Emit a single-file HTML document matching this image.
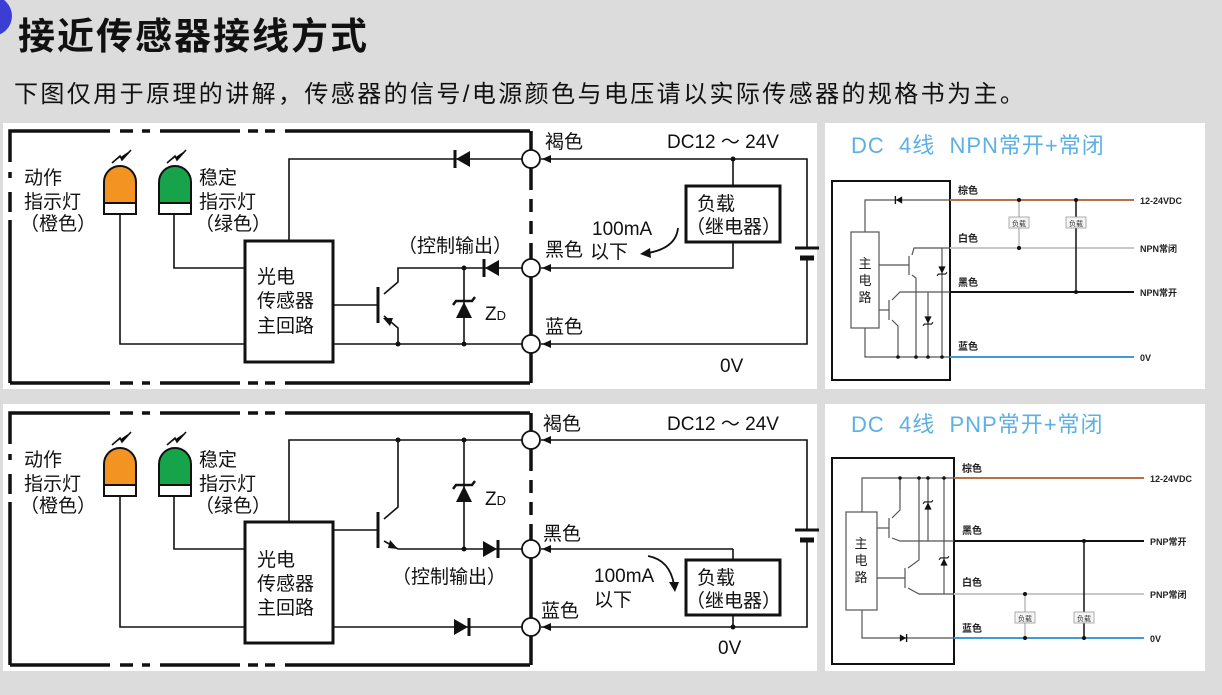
<!DOCTYPE html>
<html><head><meta charset="utf-8"><style>
html,body{margin:0;padding:0;background:#dcdcdc;}
svg{display:block;font-family:"Liberation Sans","Noto Sans CJK SC",sans-serif;}
</style></head><body>
<svg width="1222" height="695" viewBox="0 0 1222 695" xmlns="http://www.w3.org/2000/svg">
<defs>
<g id="dl"><polygon points="7,-8 7,8 -7,0" fill="#111"/><line x1="-8" y1="-9" x2="-8" y2="9" stroke="#111" stroke-width="3"/></g>
<g id="dr"><polygon points="-7,-8 -7,8 7,0" fill="#111"/><line x1="8" y1="-9" x2="8" y2="9" stroke="#111" stroke-width="3"/></g>
<g id="zu"><polygon points="-8,8 8,8 0,-8" fill="#111"/><polyline points="-11,-5 -8,-9 8,-9 11,-13" fill="none" stroke="#111" stroke-width="2.5"/></g>
<g id="ar"><polygon points="0,0 9,-4 9,4" fill="#111"/></g>
</defs>
<rect width="1222" height="695" fill="#dcdcdc"/>
<circle cx="-8" cy="16" r="20" fill="#3a3ed4"/>
<text x="18" y="49" font-size="37" font-weight="bold" fill="#111" letter-spacing="2">接近传感器接线方式</text>
<text x="14" y="102" font-size="24" fill="#111" letter-spacing="2.4">下图仅用于原理的讲解，传感器的信号/电源颜色与电压请以实际传感器的规格书为主。</text>

<rect x="3" y="123" width="814" height="266" fill="#fff"/>
<rect x="3" y="404" width="814" height="267" fill="#fff"/>
<rect x="825" y="123" width="380" height="266" fill="#fff"/>
<rect x="825" y="404" width="380" height="267" fill="#fff"/>

<!-- ===== TOP LEFT ===== -->
<g stroke="#111" fill="none">
<g stroke-width="3.5">
<polyline points="110,131 10,131 10,162"/><line x1="10" y1="172" x2="10" y2="178"/><line x1="10" y1="192" x2="10" y2="212"/><line x1="10" y1="220" x2="10" y2="383"/><line x1="10" y1="383" x2="110" y2="383"/>
<line x1="120" y1="131" x2="133" y2="131"/><line x1="142" y1="131" x2="150" y2="131"/><line x1="160" y1="131" x2="240" y2="131"/>
<line x1="248" y1="131" x2="258" y2="131"/><line x1="265" y1="131" x2="275" y2="131"/><line x1="285" y1="131" x2="530" y2="131"/>
<line x1="120" y1="383" x2="133" y2="383"/><line x1="142" y1="383" x2="150" y2="383"/><line x1="160" y1="383" x2="240" y2="383"/>
<line x1="248" y1="383" x2="258" y2="383"/><line x1="265" y1="383" x2="275" y2="383"/><line x1="285" y1="383" x2="530" y2="383"/>
<line x1="531" y1="131" x2="531" y2="150"/><line x1="531" y1="168" x2="531" y2="190"/><line x1="531" y1="199" x2="531" y2="212"/><line x1="531" y1="221" x2="531" y2="234"/><line x1="531" y1="243" x2="531" y2="259"/><line x1="531" y1="277" x2="531" y2="335"/><line x1="531" y1="353" x2="531" y2="383"/>
</g>
<g stroke-width="1.6">
<polyline points="522,159 289,159 289,241"/>
<polyline points="174,214 174,268 245,268"/>
<polyline points="120,214 120,344 245,344"/>
<line x1="333" y1="344" x2="522" y2="344"/>
<line x1="333" y1="305" x2="378" y2="305"/>
<polyline points="384,294 398,282 398,268 522,268"/>
<polyline points="384,316 398,328 398,344"/>
<line x1="464" y1="268" x2="464" y2="344"/>
<polyline points="541,159 807,159 807,248"/><polyline points="807,258 807,344 541,344"/>
<polyline points="733,159 733,186"/><polyline points="733,242 733,268 541,268"/>
</g>
<line x1="378" y1="287" x2="378" y2="323" stroke-width="3"/>
<rect x="245" y="241" width="88" height="121" stroke-width="3"/>
<rect x="686" y="186" width="94" height="56" stroke-width="3"/>
<line x1="795" y1="248" x2="819" y2="248" stroke-width="3"/><line x1="800" y1="258" x2="814" y2="258" stroke-width="5"/>
<g stroke-width="1.8" fill="#fff"><circle cx="531" cy="159" r="9"/><circle cx="531" cy="268" r="9"/><circle cx="531" cy="344" r="9"/></g>
<path d="M678,228 Q676,248 648,253" stroke-width="1.8"/>
</g>
<polygon points="383,318 390,326 393,318" fill="#111"/>
<use href="#dl" x="463" y="159"/><use href="#dl" x="492" y="268"/><use href="#zu" x="464" y="310"/>
<use href="#ar" x="542" y="159"/><use href="#ar" x="542" y="268"/><use href="#ar" x="542" y="344"/>
<polygon points="640,254 650,248 651,258" fill="#111"/>
<g fill="#111"><circle cx="398" cy="344" r="2.5"/><circle cx="464" cy="344" r="2.5"/><circle cx="464" cy="268" r="2.5"/><circle cx="733" cy="159" r="2.5"/></g>
<path d="M104,203 V182 A16,16 0 0 1 136,182 V203 Z" fill="#f39322" stroke="#111" stroke-width="2"/><rect x="104" y="203" width="32" height="11" fill="#fff" stroke="#111" stroke-width="2"/>
<path d="M159,203 V182 A16,16 0 0 1 191,182 V203 Z" fill="#17a34a" stroke="#111" stroke-width="2"/><rect x="159" y="203" width="32" height="11" fill="#fff" stroke="#111" stroke-width="2"/>
<g stroke="#111" stroke-width="1.6"><polyline points="112,163 120,156 122,160 131,150"/><polyline points="167,163 175,156 177,160 186,150"/></g>
<g fill="#111" font-size="19">
<text x="24" y="184">动作</text><text x="24" y="208">指示灯</text><text x="20" y="230">（橙色）</text>
<text x="199" y="184">稳定</text><text x="199" y="208">指示灯</text><text x="195" y="230">（绿色）</text>
<text x="257" y="283">光电</text><text x="257" y="307">传感器</text><text x="257" y="332">主回路</text>
<text x="398" y="252">（控制输出）</text>
<text x="485" y="320">Z<tspan font-size="13">D</tspan></text>
<text x="545" y="148">褐色</text><text x="667" y="148">DC12 ～ 24V</text>
<text x="697" y="210">负载</text><text x="686" y="233">（继电器）</text>
<text x="592" y="235">100mA</text><text x="545" y="256">黑色</text><text x="590" y="258">以下</text>
<text x="545" y="333">蓝色</text><text x="720" y="372">0V</text>
</g>

<!-- ===== BOTTOM LEFT ===== -->
<g stroke="#111" fill="none">
<g stroke-width="3.5">
<polyline points="110,413 10,413 10,444"/><line x1="10" y1="454" x2="10" y2="460"/><line x1="10" y1="474" x2="10" y2="494"/><line x1="10" y1="502" x2="10" y2="665"/><line x1="10" y1="665" x2="110" y2="665"/>
<line x1="120" y1="413" x2="133" y2="413"/><line x1="142" y1="413" x2="150" y2="413"/><line x1="160" y1="413" x2="240" y2="413"/>
<line x1="248" y1="413" x2="258" y2="413"/><line x1="265" y1="413" x2="275" y2="413"/><line x1="285" y1="413" x2="530" y2="413"/>
<line x1="120" y1="665" x2="133" y2="665"/><line x1="142" y1="665" x2="150" y2="665"/><line x1="160" y1="665" x2="240" y2="665"/>
<line x1="248" y1="665" x2="258" y2="665"/><line x1="265" y1="665" x2="275" y2="665"/><line x1="285" y1="665" x2="530" y2="665"/>
<line x1="531" y1="413" x2="531" y2="431"/><line x1="531" y1="449" x2="531" y2="471"/><line x1="531" y1="480" x2="531" y2="493"/><line x1="531" y1="502" x2="531" y2="515"/><line x1="531" y1="524" x2="531" y2="540"/><line x1="531" y1="558" x2="531" y2="618"/><line x1="531" y1="636" x2="531" y2="665"/>
</g>
<g stroke-width="1.6">
<polyline points="522,440 289,440 289,522"/>
<polyline points="174,496 174,549 245,549"/>
<polyline points="120,496 120,627 245,627"/>
<line x1="333" y1="627" x2="522" y2="627"/>
<line x1="333" y1="530" x2="378" y2="530"/>
<polyline points="384,519 398,507 398,440"/>
<polyline points="384,541 398,549 522,549"/>
<line x1="464" y1="440" x2="464" y2="549"/>
<polyline points="541,440 807,440 807,530"/><polyline points="807,540 807,627 541,627"/>
<polyline points="733,549 733,560"/><polyline points="733,615 733,627"/>
<polyline points="541,549 733,549"/>
</g>
<line x1="378" y1="512" x2="378" y2="548" stroke-width="3"/>
<rect x="245" y="522" width="88" height="121" stroke-width="3"/>
<rect x="686" y="560" width="94" height="55" stroke-width="3"/>
<line x1="795" y1="530" x2="819" y2="530" stroke-width="3"/><line x1="800" y1="540" x2="814" y2="540" stroke-width="5"/>
<g stroke-width="1.8" fill="#fff"><circle cx="531" cy="440" r="9"/><circle cx="531" cy="549" r="9"/><circle cx="531" cy="627" r="9"/></g>
<path d="M648,556 Q670,560 674,585" stroke-width="1.8"/>
</g>
<polygon points="390,540 398,549 388,548" fill="#111"/>
<use href="#dr" x="490" y="549"/><use href="#dr" x="461" y="627"/><use href="#zu" x="464" y="494"/>
<use href="#ar" x="542" y="440"/><use href="#ar" x="542" y="549"/><use href="#ar" x="542" y="627"/>
<polygon points="669,582 679,582 675,592" fill="#111"/>
<g fill="#111"><circle cx="398" cy="440" r="2.5"/><circle cx="464" cy="440" r="2.5"/><circle cx="464" cy="549" r="2.5"/><circle cx="733" cy="627" r="2.5"/></g>
<path d="M104,485 V464 A16,16 0 0 1 136,464 V485 Z" fill="#f39322" stroke="#111" stroke-width="2"/><rect x="104" y="485" width="32" height="11" fill="#fff" stroke="#111" stroke-width="2"/>
<path d="M159,485 V464 A16,16 0 0 1 191,464 V485 Z" fill="#17a34a" stroke="#111" stroke-width="2"/><rect x="159" y="485" width="32" height="11" fill="#fff" stroke="#111" stroke-width="2"/>
<g stroke="#111" stroke-width="1.6"><polyline points="112,445 120,438 122,442 131,432"/><polyline points="167,445 175,438 177,442 186,432"/></g>
<g fill="#111" font-size="19">
<text x="24" y="466">动作</text><text x="24" y="490">指示灯</text><text x="20" y="512">（橙色）</text>
<text x="199" y="466">稳定</text><text x="199" y="490">指示灯</text><text x="195" y="512">（绿色）</text>
<text x="257" y="566">光电</text><text x="257" y="590">传感器</text><text x="257" y="614">主回路</text>
<text x="392" y="583">（控制输出）</text>
<text x="485" y="505">Z<tspan font-size="13">D</tspan></text>
<text x="543" y="430">褐色</text><text x="667" y="430">DC12 ～ 24V</text>
<text x="543" y="540">黑色</text>
<text x="697" y="584">负载</text><text x="686" y="607">（继电器）</text>
<text x="594" y="582">100mA</text><text x="594" y="606">以下</text>
<text x="541" y="617">蓝色</text><text x="718" y="654">0V</text>
</g>

<!-- ===== TOP RIGHT NPN ===== -->
<text x="851" y="153" font-size="22" fill="#5db0e4" letter-spacing="1" style="white-space:pre" xml:space="preserve">DC  4线  NPN常开+常闭</text>
<g fill="none" stroke="#111">
<rect x="832" y="181" width="118" height="199" stroke-width="2"/>
<g stroke="#555" stroke-width="1.2">
<rect x="851" y="232" width="28" height="96"/>
<polyline points="950,200 865,200 865,232"/>
<polyline points="865,328 865,357 950,357"/>
<polyline points="879,265 909,265"/><polyline points="912,255 914,248 950,248"/><polyline points="912,275 916,278 916,357"/>
<polyline points="879,310 889,310"/><polyline points="892,300 900,292 950,292"/><polyline points="892,320 898,326 898,357"/>
<line x1="909" y1="256" x2="909" y2="275"/><line x1="889" y1="300" x2="889" y2="320"/>
<line x1="942" y1="248" x2="942" y2="357"/><line x1="928" y1="292" x2="928" y2="357"/>
</g>
<line x1="950" y1="200" x2="1134" y2="200" stroke="#b87046" stroke-width="2"/>
<line x1="950" y1="248" x2="1134" y2="248" stroke="#c8c8c8" stroke-width="2"/>
<line x1="950" y1="292" x2="1134" y2="292" stroke="#111" stroke-width="2"/>
<line x1="950" y1="357" x2="1134" y2="357" stroke="#3f9ad6" stroke-width="2"/>
<line x1="1019" y1="200" x2="1019" y2="248" stroke="#bbb" stroke-width="1.5"/>
<line x1="1076" y1="200" x2="1076" y2="292" stroke="#111" stroke-width="1.5"/>
</g>
<g fill="#111"><use href="#dl" transform="translate(899,200) scale(0.45)"/><use href="#zu" transform="translate(942,270) scale(0.45) rotate(180)"/><use href="#zu" transform="translate(928,320) scale(0.45) rotate(180)"/>
<circle cx="1019" cy="200" r="2"/><circle cx="1076" cy="200" r="2"/><circle cx="1019" cy="248" r="2"/><circle cx="1076" cy="292" r="2"/>
<circle cx="916" cy="357" r="1.8"/><circle cx="898" cy="357" r="1.8"/><circle cx="928" cy="357" r="1.8"/><circle cx="942" cy="357" r="1.8"/></g>
<rect x="1009" y="217" width="20" height="11" fill="#f4f4f4" stroke="#999" stroke-width="0.8"/><text x="1012" y="226" font-size="7" fill="#333">负载</text>
<rect x="1066" y="217" width="20" height="11" fill="#f4f4f4" stroke="#999" stroke-width="0.8"/><text x="1069" y="226" font-size="7" fill="#333">负载</text>
<g font-size="13" fill="#222" text-anchor="middle"><text x="865" y="268">主</text><text x="865" y="285">电</text><text x="865" y="302">路</text></g>
<g font-size="10" fill="#222" font-weight="bold">
<text x="958" y="194">棕色</text><text x="958" y="242">白色</text><text x="958" y="286">黑色</text><text x="958" y="350">蓝色</text>
<text x="1140" y="204" font-size="9">12-24VDC</text><text x="1140" y="252" font-size="9">NPN常闭</text><text x="1140" y="296" font-size="9">NPN常开</text><text x="1140" y="361" font-size="9">0V</text>
</g>

<!-- ===== BOTTOM RIGHT PNP ===== -->
<text x="851" y="432" font-size="22" fill="#5db0e4" letter-spacing="1" style="white-space:pre" xml:space="preserve">DC  4线  PNP常开+常闭</text>
<g fill="none" stroke="#111">
<rect x="832" y="458" width="122" height="206" stroke-width="2"/>
<g stroke="#555" stroke-width="1.2">
<rect x="846" y="512" width="31" height="98"/>
<polyline points="954,478 862,478 862,512"/>
<polyline points="862,610 862,638 954,638"/>
<line x1="900" y1="478" x2="900" y2="490"/>
<polyline points="877,528 889,528"/><polyline points="892,518 900,510 900,478"/><polyline points="892,538 900,541 954,541"/>
<polyline points="877,578 905,578"/><polyline points="908,568 919,560 919,478"/><polyline points="908,588 919,594 954,594"/>
<line x1="889" y1="518" x2="889" y2="538"/><line x1="905" y1="568" x2="905" y2="588"/>
<line x1="928" y1="478" x2="928" y2="541"/><line x1="944" y1="478" x2="944" y2="594"/>
</g>
<line x1="954" y1="478" x2="1144" y2="478" stroke="#b87046" stroke-width="2"/>
<line x1="954" y1="541" x2="1144" y2="541" stroke="#111" stroke-width="2"/>
<line x1="954" y1="594" x2="1144" y2="594" stroke="#c8c8c8" stroke-width="2"/>
<line x1="954" y1="638" x2="1144" y2="638" stroke="#3f9ad6" stroke-width="2"/>
<line x1="1025" y1="594" x2="1025" y2="638" stroke="#bbb" stroke-width="1.5"/>
<line x1="1084" y1="541" x2="1084" y2="638" stroke="#111" stroke-width="1.5"/>
</g>
<g fill="#111"><use href="#dr" transform="translate(903,638) scale(0.45)"/><use href="#zu" transform="translate(928,506) scale(0.45)"/><use href="#zu" transform="translate(944,562) scale(0.45)"/>
<circle cx="1025" cy="594" r="2"/><circle cx="1025" cy="638" r="2"/><circle cx="1084" cy="541" r="2"/><circle cx="1084" cy="638" r="2"/>
<circle cx="900" cy="478" r="1.8"/><circle cx="919" cy="478" r="1.8"/><circle cx="928" cy="478" r="1.8"/><circle cx="944" cy="478" r="1.8"/></g>
<rect x="1015" y="612" width="20" height="11" fill="#f4f4f4" stroke="#999" stroke-width="0.8"/><text x="1018" y="621" font-size="7" fill="#333">负载</text>
<rect x="1074" y="612" width="20" height="11" fill="#f4f4f4" stroke="#999" stroke-width="0.8"/><text x="1077" y="621" font-size="7" fill="#333">负载</text>
<g font-size="13" fill="#222" text-anchor="middle"><text x="861" y="548">主</text><text x="861" y="565">电</text><text x="861" y="582">路</text></g>
<g font-size="10" fill="#222" font-weight="bold">
<text x="962" y="472">棕色</text><text x="962" y="534">黑色</text><text x="962" y="586">白色</text><text x="962" y="632">蓝色</text>
<text x="1150" y="482" font-size="9">12-24VDC</text><text x="1150" y="545" font-size="9">PNP常开</text><text x="1150" y="598" font-size="9">PNP常闭</text><text x="1150" y="642" font-size="9">0V</text>
</g>
</svg>
</body></html>
